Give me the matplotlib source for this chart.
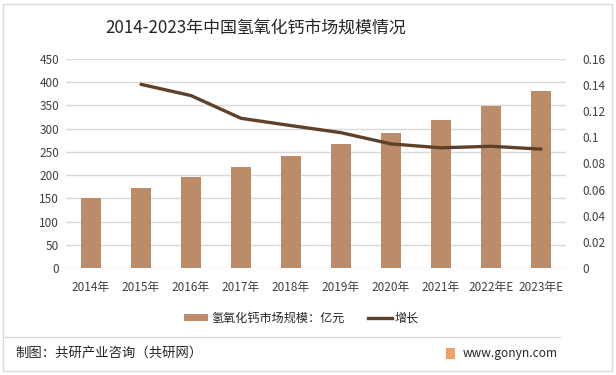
import matplotlib
matplotlib.use("Agg")
import matplotlib.pyplot as plt
from matplotlib.patches import Rectangle, Patch
from matplotlib.lines import Line2D
from matplotlib.ticker import FuncFormatter

plt.rcParams['font.family'] = ['Noto Sans CJK SC', 'DejaVu Sans']

categories = ["2014年", "2015年", "2016年", "2017年", "2018年", "2019年",
              "2020年", "2021年", "2022年E", "2023年E"]
market_size = [150, 172, 196, 217, 241, 267, 291, 319, 349, 381]
growth_years = categories[1:]
growth = [0.1406, 0.132, 0.1146, 0.109, 0.1036, 0.095, 0.092, 0.0932, 0.091]
left_ticks = [0, 50, 100, 150, 200, 250, 300, 350, 400, 450]
right_ticks = [0, 0.02, 0.04, 0.06, 0.08, 0.1, 0.12, 0.14, 0.16]

W, H = 616, 375
fig = plt.figure(figsize=(W / 100, H / 100), dpi=100)
fig.patch.set_facecolor("white")

# outer border
fig.add_artist(Rectangle((3 / W, 4 / H), 609 / W, 367 / H, transform=fig.transFigure,
                         fill=False, edgecolor="#D9D9D9", linewidth=1))

ax = fig.add_axes([66 / W, (H - 268) / H, 500 / W, 209 / H])
x = list(range(len(categories)))
ax.bar(x, market_size, width=0.4, color="#BA8C6A", zorder=3)
ax.set_xlim(-0.5, len(categories) - 0.5)
ax.set_ylim(0, 450)
ax.set_yticks(left_ticks)
ax.set_xticks(x)
ax.set_xticklabels(categories)
ax.grid(axis="y", color="#D9D9D9", linewidth=1, zorder=0)
for s in ax.spines.values():
    s.set_visible(False)
ax.tick_params(axis="both", length=0, labelsize=8.5, colors="#404040")
ax.tick_params(axis="y", pad=5)
ax.tick_params(axis="x", pad=9)

ax2 = ax.twinx()
gx = [categories.index(c) for c in growth_years]
ax2.plot(gx, growth, color="#5E4128", linewidth=2.4, solid_capstyle="round",
         solid_joinstyle="round", zorder=4)
ax2.set_ylim(0, 0.16)
ax2.set_yticks(right_ticks)
ax2.yaxis.set_major_formatter(FuncFormatter(lambda v, p: "%g" % round(v, 2)))
for s in ax2.spines.values():
    s.set_visible(False)
ax2.tick_params(axis="y", length=0, labelsize=8.5, colors="#404040", pad=12)

fig.text(256 / W, 1 - 28 / H, "2014-2023年中国氢氧化钙市场规模情况", ha="center", va="center",
         fontsize=12.2, color="#262626")

handles = [Patch(facecolor="#BA8C6A", edgecolor="none"),
           Line2D([0], [0], color="#5E4128", linewidth=2.4)]
leg = fig.legend(handles, ["氢氧化钙市场规模：亿元", "增长"], loc="center left",
                 bbox_to_anchor=(184 / W, 1 - 318 / H), ncol=2, frameon=False,
                 fontsize=8.7, handlelength=2.0, handleheight=0.55, columnspacing=1.9,
                 handletextpad=0.25, labelcolor="#262626", borderpad=0, borderaxespad=0)

# separator line
fig.add_artist(Line2D([5 / W, 560 / W], [1 - 337 / H, 1 - 337 / H], transform=fig.transFigure,
                      color="#D9D9D9", linewidth=1))
fig.text(15 / W, 1 - 353 / H, "制图：共研产业咨询（共研网）", ha="left", va="center",
         fontsize=9.6, color="#262626")
fig.add_artist(Rectangle((446 / W, 1 - 359 / H), 9 / W, 11 / H, transform=fig.transFigure,
                         facecolor="#F0A060", edgecolor="none"))
fig.text(463 / W, 1 - 353 / H, "www.gonyn.com", ha="left", va="center",
         fontsize=8.6, color="#262626")

fig.savefig("out.png", dpi=100)
